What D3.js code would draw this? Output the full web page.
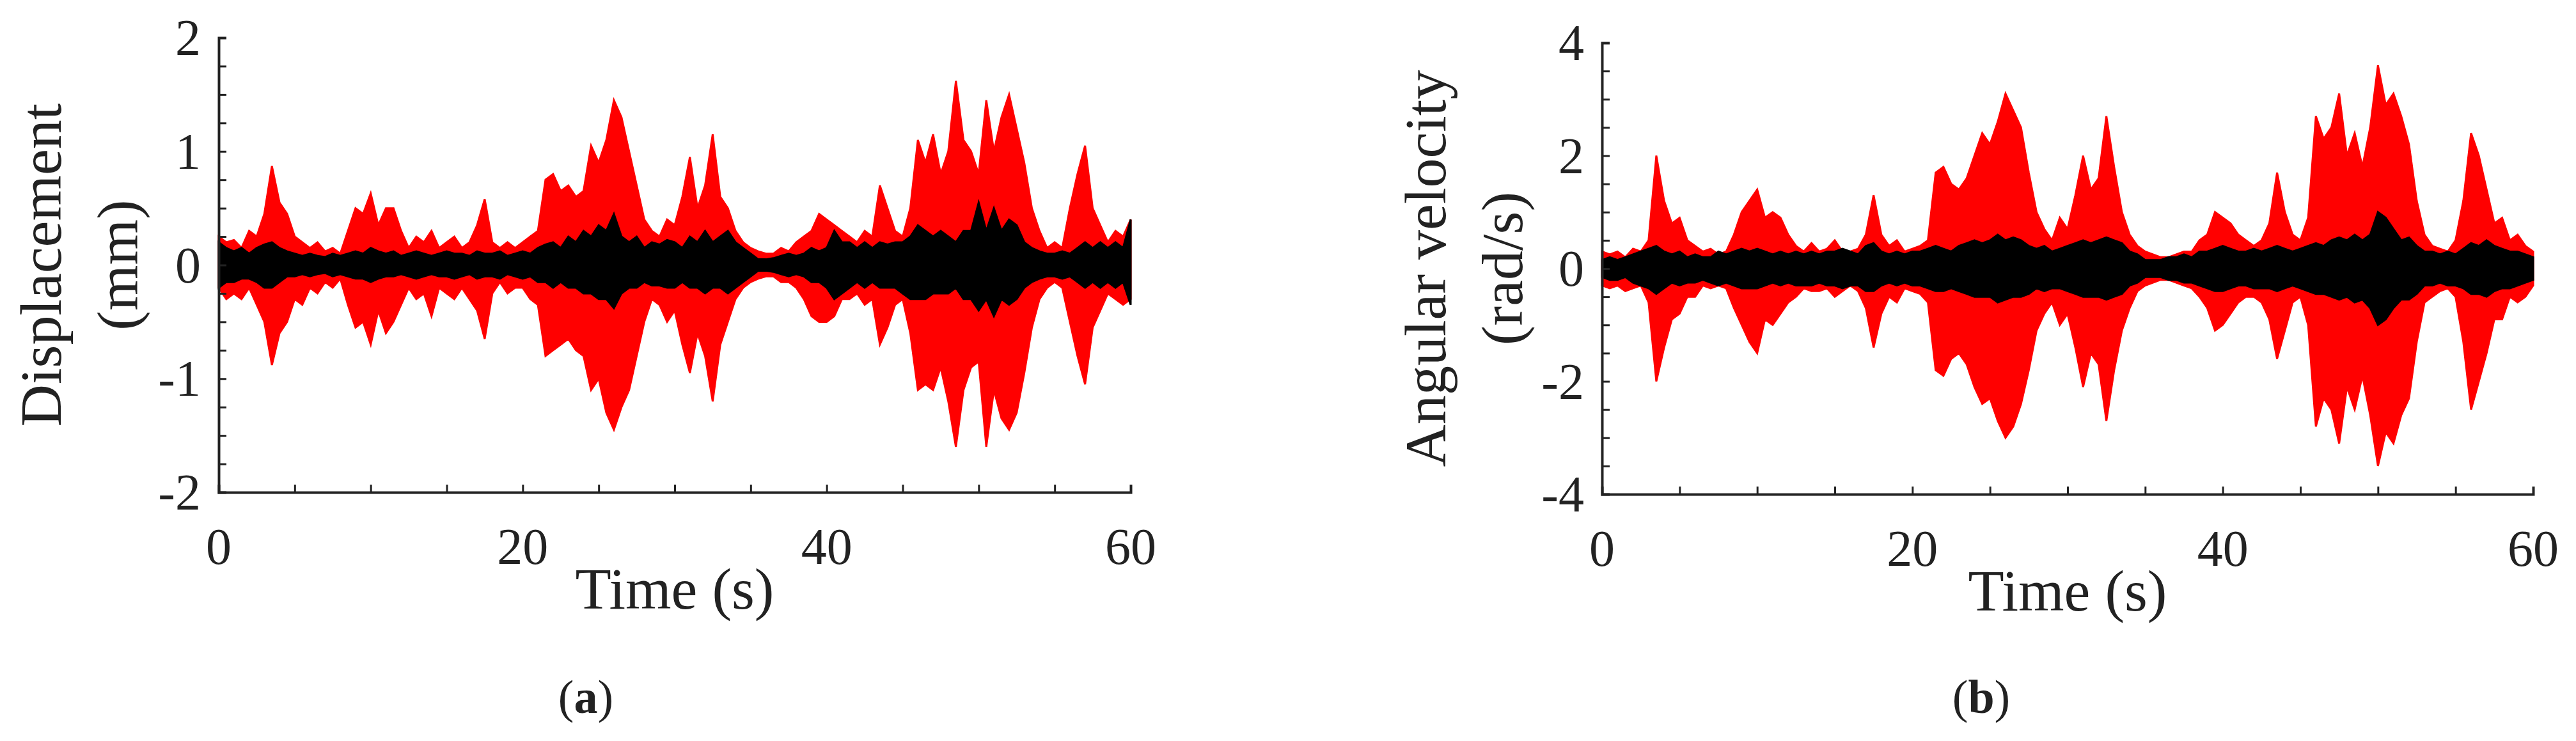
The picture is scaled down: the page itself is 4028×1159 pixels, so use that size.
<!DOCTYPE html>
<html><head><meta charset="utf-8">
<script src="https://cdn.jsdelivr.net/npm/d3@7"></script>
<style>body{margin:0;background:#fff}text{font-family:"Liberation Serif","Times New Roman",serif;fill:#222}</style>
</head><body><svg id="c" width="4028" height="1159"></svg>
<script>
// sampled every 0.5 s, 0..60 s (121 values): envelope of the signals
const times = d3.range(0, 60.001, 0.5);

const dispRedUp = [0.25,0.2,0.22,0.15,0.3,0.25,0.45,0.87,0.55,0.45,0.25,0.2,0.15,0.2,0.12,0.15,0.1,0.3,0.5,0.45,0.63,0.35,0.5,0.5,0.3,0.15,0.25,0.2,0.3,0.15,0.2,0.25,0.15,0.2,0.35,0.58,0.2,0.15,0.2,0.15,0.2,0.25,0.3,0.75,0.8,0.65,0.7,0.6,0.65,1.05,0.9,1.1,1.45,1.3,1.0,0.7,0.4,0.3,0.25,0.4,0.35,0.6,0.95,0.5,0.7,1.15,0.6,0.5,0.3,0.2,0.15,0.12,0.1,0.1,0.15,0.12,0.2,0.25,0.3,0.45,0.4,0.35,0.3,0.25,0.2,0.3,0.25,0.7,0.5,0.3,0.25,0.5,1.1,0.9,1.15,0.8,1.0,1.62,1.1,1.0,0.8,1.45,1.0,1.3,1.5,1.2,0.9,0.5,0.3,0.15,0.2,0.15,0.5,0.8,1.05,0.5,0.35,0.2,0.3,0.25,0.4];
const dispRedLo = [-0.2,-0.3,-0.25,-0.3,-0.2,-0.35,-0.5,-0.88,-0.6,-0.5,-0.3,-0.35,-0.2,-0.25,-0.15,-0.2,-0.12,-0.35,-0.55,-0.5,-0.7,-0.4,-0.6,-0.5,-0.35,-0.2,-0.3,-0.25,-0.45,-0.2,-0.25,-0.3,-0.2,-0.3,-0.4,-0.65,-0.25,-0.15,-0.25,-0.2,-0.2,-0.3,-0.35,-0.8,-0.75,-0.7,-0.65,-0.75,-0.8,-1.1,-1.0,-1.3,-1.45,-1.25,-1.1,-0.8,-0.5,-0.3,-0.35,-0.5,-0.4,-0.7,-0.95,-0.6,-0.8,-1.2,-0.7,-0.5,-0.3,-0.2,-0.15,-0.12,-0.1,-0.1,-0.15,-0.15,-0.2,-0.3,-0.45,-0.5,-0.5,-0.45,-0.3,-0.3,-0.25,-0.35,-0.3,-0.7,-0.55,-0.35,-0.3,-0.6,-1.1,-1.05,-1.1,-0.9,-1.2,-1.6,-1.1,-0.9,-0.85,-1.6,-1.1,-1.35,-1.45,-1.3,-0.95,-0.55,-0.3,-0.2,-0.15,-0.2,-0.5,-0.8,-1.05,-0.55,-0.4,-0.25,-0.3,-0.35,-0.3];
const dispBlkUp = [0.2,0.15,0.12,0.15,0.1,0.15,0.18,0.2,0.15,0.12,0.1,0.08,0.1,0.08,0.07,0.1,0.08,0.1,0.12,0.1,0.15,0.12,0.1,0.12,0.08,0.1,0.12,0.1,0.08,0.1,0.12,0.1,0.1,0.08,0.12,0.1,0.1,0.12,0.08,0.1,0.12,0.1,0.15,0.18,0.2,0.15,0.25,0.2,0.3,0.25,0.35,0.3,0.45,0.25,0.2,0.25,0.15,0.2,0.18,0.22,0.2,0.15,0.25,0.2,0.3,0.2,0.25,0.3,0.2,0.15,0.1,0.05,0.05,0.06,0.08,0.1,0.08,0.1,0.15,0.12,0.15,0.3,0.2,0.2,0.15,0.2,0.15,0.2,0.18,0.2,0.2,0.25,0.35,0.3,0.25,0.3,0.25,0.2,0.3,0.3,0.55,0.3,0.5,0.3,0.4,0.35,0.2,0.15,0.12,0.1,0.1,0.12,0.1,0.15,0.2,0.15,0.2,0.15,0.2,0.15,0.4];
const dispBlkLo = [-0.2,-0.15,-0.15,-0.12,-0.12,-0.15,-0.2,-0.2,-0.15,-0.1,-0.1,-0.08,-0.1,-0.08,-0.07,-0.1,-0.08,-0.1,-0.12,-0.12,-0.15,-0.12,-0.1,-0.1,-0.08,-0.1,-0.12,-0.1,-0.08,-0.1,-0.1,-0.12,-0.1,-0.08,-0.12,-0.1,-0.1,-0.12,-0.08,-0.1,-0.12,-0.1,-0.15,-0.15,-0.2,-0.15,-0.2,-0.2,-0.25,-0.25,-0.3,-0.3,-0.38,-0.25,-0.2,-0.2,-0.15,-0.18,-0.18,-0.2,-0.2,-0.15,-0.2,-0.2,-0.25,-0.2,-0.2,-0.25,-0.2,-0.15,-0.1,-0.05,-0.05,-0.06,-0.08,-0.1,-0.08,-0.1,-0.15,-0.15,-0.2,-0.3,-0.25,-0.2,-0.15,-0.2,-0.15,-0.2,-0.2,-0.2,-0.25,-0.3,-0.3,-0.3,-0.25,-0.25,-0.25,-0.2,-0.3,-0.3,-0.4,-0.3,-0.45,-0.3,-0.35,-0.3,-0.2,-0.15,-0.12,-0.1,-0.1,-0.12,-0.1,-0.15,-0.2,-0.15,-0.2,-0.15,-0.2,-0.15,-0.35];

const velRedUp = [0.3,0.25,0.3,0.2,0.35,0.3,0.5,2.0,1.2,0.8,0.9,0.5,0.4,0.3,0.35,0.25,0.3,0.6,1.0,1.2,1.4,0.9,1.0,0.9,0.6,0.4,0.3,0.45,0.3,0.35,0.5,0.3,0.3,0.35,0.6,1.3,0.6,0.4,0.5,0.3,0.35,0.4,0.5,1.7,1.8,1.5,1.4,1.6,2.0,2.4,2.2,2.6,3.1,2.8,2.5,1.7,1.0,0.7,0.5,0.9,0.7,1.3,2.0,1.4,1.6,2.7,1.8,1.0,0.6,0.4,0.3,0.25,0.2,0.2,0.25,0.3,0.3,0.5,0.6,1.0,0.9,0.8,0.6,0.5,0.4,0.5,0.8,1.7,1.0,0.6,0.5,0.9,2.7,2.3,2.5,3.1,2.0,2.4,1.8,2.5,3.6,2.9,3.1,2.7,2.2,1.2,0.6,0.4,0.35,0.3,0.5,1.2,2.4,2.0,1.4,0.8,0.9,0.5,0.6,0.4,0.3];
const velRedLo = [-0.3,-0.35,-0.3,-0.4,-0.35,-0.3,-0.6,-2.0,-1.4,-0.9,-0.8,-0.5,-0.5,-0.3,-0.35,-0.3,-0.35,-0.7,-1.0,-1.3,-1.5,-0.9,-1.0,-0.8,-0.6,-0.5,-0.35,-0.4,-0.4,-0.35,-0.5,-0.4,-0.3,-0.4,-0.7,-1.4,-0.8,-0.5,-0.6,-0.35,-0.4,-0.45,-0.6,-1.8,-1.9,-1.6,-1.5,-1.7,-2.1,-2.4,-2.3,-2.7,-3.0,-2.8,-2.4,-1.8,-1.1,-0.8,-0.6,-1.0,-0.8,-1.4,-2.1,-1.5,-1.7,-2.7,-1.8,-1.1,-0.7,-0.4,-0.3,-0.25,-0.2,-0.2,-0.25,-0.3,-0.35,-0.5,-0.7,-1.1,-1.0,-0.8,-0.6,-0.5,-0.5,-0.6,-0.9,-1.6,-1.1,-0.6,-0.5,-1.0,-2.8,-2.3,-2.5,-3.1,-2.1,-2.5,-1.9,-2.6,-3.5,-2.9,-3.1,-2.6,-2.3,-1.3,-0.6,-0.5,-0.4,-0.35,-0.5,-1.3,-2.5,-2.0,-1.5,-0.9,-0.9,-0.5,-0.6,-0.5,-0.3];
const velBlkUp = [0.15,0.2,0.15,0.2,0.25,0.3,0.35,0.4,0.3,0.25,0.3,0.2,0.25,0.2,0.2,0.3,0.25,0.3,0.35,0.3,0.35,0.3,0.25,0.3,0.25,0.3,0.25,0.3,0.25,0.3,0.3,0.35,0.3,0.25,0.4,0.45,0.3,0.25,0.3,0.25,0.3,0.3,0.35,0.4,0.35,0.3,0.4,0.45,0.5,0.45,0.5,0.6,0.5,0.55,0.5,0.4,0.35,0.4,0.3,0.35,0.4,0.45,0.5,0.45,0.5,0.55,0.5,0.45,0.3,0.25,0.15,0.15,0.15,0.2,0.2,0.25,0.2,0.3,0.3,0.35,0.4,0.35,0.3,0.3,0.35,0.3,0.35,0.4,0.35,0.3,0.35,0.4,0.45,0.4,0.5,0.55,0.5,0.6,0.5,0.6,1.0,0.9,0.7,0.5,0.55,0.4,0.3,0.3,0.25,0.3,0.25,0.35,0.45,0.4,0.5,0.4,0.35,0.3,0.3,0.25,0.2];
const velBlkLo = [-0.15,-0.2,-0.2,-0.15,-0.25,-0.3,-0.35,-0.45,-0.35,-0.25,-0.3,-0.25,-0.25,-0.2,-0.25,-0.3,-0.25,-0.3,-0.35,-0.35,-0.35,-0.3,-0.25,-0.3,-0.25,-0.3,-0.3,-0.3,-0.25,-0.3,-0.3,-0.35,-0.3,-0.3,-0.4,-0.4,-0.3,-0.25,-0.3,-0.25,-0.3,-0.3,-0.35,-0.4,-0.4,-0.35,-0.4,-0.45,-0.5,-0.5,-0.5,-0.6,-0.55,-0.5,-0.5,-0.45,-0.35,-0.4,-0.35,-0.35,-0.4,-0.45,-0.5,-0.5,-0.5,-0.55,-0.5,-0.45,-0.3,-0.25,-0.15,-0.15,-0.15,-0.2,-0.2,-0.25,-0.25,-0.3,-0.35,-0.4,-0.4,-0.35,-0.3,-0.3,-0.35,-0.35,-0.35,-0.4,-0.35,-0.3,-0.35,-0.4,-0.45,-0.45,-0.5,-0.55,-0.5,-0.6,-0.55,-0.7,-1.0,-0.9,-0.7,-0.55,-0.55,-0.45,-0.3,-0.3,-0.25,-0.3,-0.3,-0.35,-0.45,-0.45,-0.5,-0.4,-0.35,-0.35,-0.3,-0.25,-0.2];

const xTicks = [0, 20, 40, 60];

const svg = d3.select("#c");

function panel(o) {
    const x = d3.scaleLinear().domain([0, 60]).range([o.x0, o.x1]);
    const y = d3.scaleLinear().domain(o.ydom).range([o.y1, o.y0]);
    const g = svg.append("g");

    [[o.redUp, o.redLo, "#ff0000"], [o.blkUp, o.blkLo, "#000"]].forEach(([up, lo, col]) => {
        const area = d3.area()
            .x((d, i) => x(times[i]))
            .y0((d, i) => y(lo[i]))
            .y1(d => y(d));
        g.append("path").datum(up).attr("d", area)
            .attr("fill", col).attr("stroke", col).attr("stroke-width", 3);
    });

    // axes (ticks inward, MATLAB-style)
    const xa = g.append("g").attr("transform", `translate(0,${o.y1})`)
        .call(d3.axisBottom(x).tickValues(d3.range(0, 60.1, 5)).tickSize(-12).tickFormat(""));
    const ya = g.append("g").attr("transform", `translate(${o.x0},0)`)
        .call(d3.axisLeft(y).tickValues(o.yMinor).tickSize(-12).tickFormat(""));
    [xa, ya].forEach(a => {
        a.select(".domain").attr("stroke", "#222").attr("stroke-width", 4);
        a.selectAll("line").attr("stroke", "#222").attr("stroke-width", 3);
    });

    g.selectAll(".xl").data(xTicks).join("text")
        .attr("x", d => x(d)).attr("y", o.y1 + 112)
        .attr("text-anchor", "middle").attr("font-size", 80).text(d => d);
    g.selectAll(".yl").data(o.yTicks).join("text")
        .attr("x", o.x0 - 28).attr("y", d => y(d) + 27)
        .attr("text-anchor", "end").attr("font-size", 80).text(d => d);

    g.append("text").attr("x", (o.x0 + o.x1) / 2).attr("y", o.y1 + 182)
        .attr("text-anchor", "middle").attr("font-size", 92).text("Time (s)");
    o.ytitle.forEach((t, i) => {
        g.append("text").attr("transform", `translate(${o.tx[i]},${(o.y0 + o.y1) / 2}) rotate(-90)`)
            .attr("text-anchor", "middle").attr("font-size", 92).text(t);
    });
    const lab = g.append("text").attr("x", o.labX).attr("y", 1115)
        .attr("text-anchor", "middle").attr("font-size", 74);
    lab.append("tspan").text("(");
    lab.append("tspan").attr("font-weight", "bold").text(o.label);
    lab.append("tspan").text(")");
}

panel({
    x0: 342, x1: 1768, y0: 59, y1: 770, ydom: [-2, 2],
    yTicks: [-2, -1, 0, 1, 2], yMinor: d3.range(-2, 2.01, 0.25),
    redUp: dispRedUp, redLo: dispRedLo, blkUp: dispBlkUp, blkLo: dispBlkLo,
    ytitle: ["Displacement", "(mm)"], tx: [95, 215], labX: 916, label: "a"
});
panel({
    x0: 2505, x1: 3961, y0: 67, y1: 773, ydom: [-4, 4],
    yTicks: [-4, -2, 0, 2, 4], yMinor: d3.range(-4, 4.01, 0.5),
    redUp: velRedUp, redLo: velRedLo, blkUp: velBlkUp, blkLo: velBlkLo,
    ytitle: ["Angular velocity", "(rad/s)"], tx: [2260, 2380], labX: 3098, label: "b"
});
</script></body></html>
